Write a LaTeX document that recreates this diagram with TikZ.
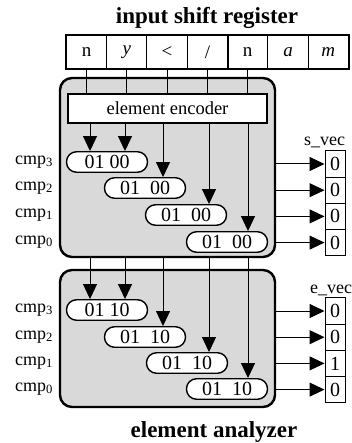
\documentclass[tikz,border=0pt]{standalone}
\usepackage{fontspec}
\setmainfont{Liberation Serif}
\usetikzlibrary{arrows.meta}
\begin{document}
\begin{tikzpicture}[x=1pt,y=-1pt,
 reg/.style={draw, line width=1pt, minimum width=40.3pt, minimum height=33pt, inner sep=0pt, font=\fontsize{19}{21}\selectfont},
 pill/.style={draw, fill=white, line width=1.4pt, rounded corners=10pt, minimum width=81pt, minimum height=20.5pt, inner sep=0pt, font=\fontsize{20}{22}\selectfont},
 panel/.style={draw, fill=gray!30, line width=2.4pt, rounded corners=12pt, minimum width=215pt, inner sep=0pt},
 vcell/.style={draw, fill=white, line width=1pt, minimum width=20pt, minimum height=26.2pt, inner sep=0pt, font=\fontsize{20}{22}\selectfont},
 cmplab/.style={anchor=east, inner sep=0pt, font=\fontsize{18}{20}\selectfont},
 veclab/.style={anchor=base west, inner sep=0pt, font=\fontsize{18}{20}\selectfont},
 arr/.style={-{Triangle[length=15pt,width=14pt]}, line width=1pt},
 wire/.style={line width=1pt},
 ttl/.style={inner sep=0pt, font=\fontsize{23}{26}\selectfont\bfseries}
]
\useasboundingbox (0,0) rectangle (352,443);
% titles
\node[ttl] (t1) at (207,18) {input shift register};
\node[ttl] (t2) at (214,432) {element analyzer};
% register
\node[reg] (r0) at (86.5,52) {n};
\node[reg] (r1) at (126.8,52) {\itshape y};
\node[reg] (r2) at (167.1,52) {<};
\node[reg] (r3) at (207.4,52) {/};
\node[reg] (r4) at (247.7,52) {n};
\node[reg] (r5) at (288.0,52) {\itshape a};
\node[reg] (r6) at (328.3,52) {\itshape m};
\draw[line width=2.6pt] (r0.north west) rectangle (r6.south east);
\draw[line width=2.6pt] (r0.north west) rectangle (r3.south east);
% panels
\node[panel, minimum height=179pt] (box1) at (167.5,167.5) {};
\node[panel, minimum height=137pt] (box2) at (167.5,338.5) {};
\node[draw, fill=white, line width=2.2pt, minimum width=199pt, minimum height=29pt, inner sep=0pt, font=\fontsize{18.5}{20}\selectfont] (enc) at (167.5,108.5) {element encoder};
% register to encoder
\foreach \i in {0,...,4} \draw[wire] (r\i.south) -- (enc.north -| r\i.south);
% columns
\coordinate (k1) at (90,0);
\coordinate (k2) at (125,0);
\coordinate (k3) at (163,0);
\coordinate (k4) at (209,0);
\coordinate (k5) at (248,0);
% pills box1
\node[pill] (a3) at (107,162) {01 00};
\node[pill] (a2) at (145,188) {01\hspace{10pt}00};
\node[pill] (a1) at (186,215) {01\hspace{10pt}00};
\node[pill] (a0) at (227,242) {01\hspace{10pt}00};
% pills box2
\node[pill] (b3) at (107,310) {01 10};
\node[pill] (b2) at (145,337) {01\hspace{10pt}10};
\node[pill] (b1) at (187,363) {01\hspace{10pt}10};
\node[pill] (b0) at (227,389) {01\hspace{10pt}10};
% arrows box1
\draw[arr] (enc.south -| k1) -- (a3.north -| k1);
\draw[arr] (enc.south -| k2) -- (a3.north -| k2);
\draw[arr] (enc.south -| k3) -- (a2.north -| k3);
\draw[arr] (enc.south -| k4) -- (a1.north -| k4);
\draw[arr] (enc.south -| k5) -- (a0.north -| k5);
% arrows box2
\draw[arr] (box1.south -| k1) -- (b3.north -| k1);
\draw[arr] (box1.south -| k2) -- (b3.north -| k2);
\draw[arr] (box1.south -| k3) -- (b2.north -| k3);
\draw[arr] (box1.south -| k4) -- (b1.north -| k4);
\draw[arr] (box1.south -| k5) -- (b0.north -| k5);
% cmp labels
\foreach \n/\p in {3/a3,2/a2,1/a1,0/a0,3/b3,2/b2,1/b1,0/b0}
  \node[cmplab] (l\p) at (53,0 |- \p) {cmp\textsubscript{\n}};
% s_vec
\node[vcell] (s3) at (335,164) {0};
\node[vcell] (s2) at (335,190.2) {0};
\node[vcell] (s1) at (335,216.4) {0};
\node[vcell] (s0) at (335,242.6) {0};
\node[veclab] (slab) at (304,146) {s\_vec};
% e_vec
\node[vcell] (e3) at (335,311) {0};
\node[vcell] (e2) at (335,337.2) {0};
\node[vcell] (e1) at (335,363.4) {1};
\node[vcell] (e0) at (335,389.6) {0};
\node[veclab] (elab) at (310,293) {e\_vec};
% outputs
\draw[arr] (box1.east |- s3) -- (s3.west);
\draw[arr] (box1.east |- s2) -- (s2.west);
\draw[arr] (box1.east |- s1) -- (s1.west);
\draw[arr] (box1.east |- s0) -- (s0.west);
\draw[arr] (box2.east |- e3) -- (e3.west);
\draw[arr] (box2.east |- e2) -- (e2.west);
\draw[arr] (box2.east |- e1) -- (e1.west);
\draw[arr] (box2.east |- e0) -- (e0.west);
\end{tikzpicture}
\end{document}
